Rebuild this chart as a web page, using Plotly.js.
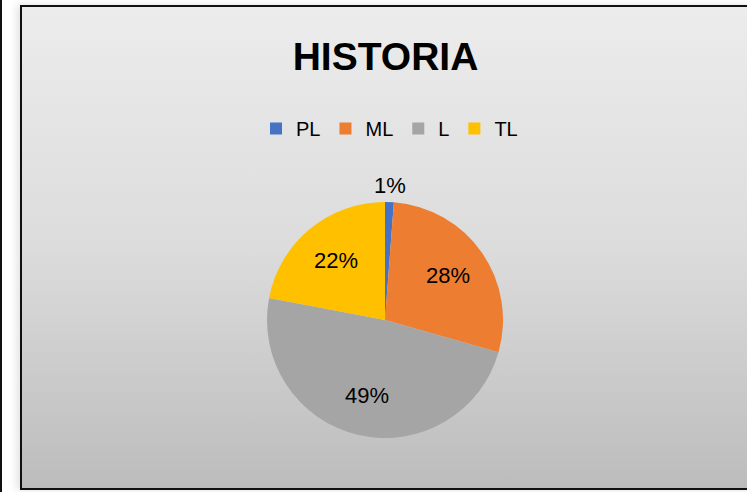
<!DOCTYPE html>
<html>
<head>
<meta charset="utf-8">
<script src="https://cdn.plot.ly/plotly-3.0.1.min.js"></script>
<style>
  html, body { margin: 0; padding: 0; background: #ffffff; overflow: hidden; }
  #wrap { position: relative; width: 747px; height: 492px; overflow: hidden; }
  #leftline { position: absolute; left: 0; top: 0; width: 2px; height: 492px; background: #111; }
  #frame { position: absolute; left: 20px; top: 5px; width: 800px; height: 481px;
           border: 2px solid #111;
           background: linear-gradient(to bottom, #ececec 0%, #dcdcdc 50%, #bcbcbc 100%);
           box-shadow: -3px 0 8px rgba(0,0,0,0.12); }
  #chart { position: absolute; left: 0; top: 0; width: 747px; height: 492px; }
</style>
</head>
<body>
<div id="wrap">
  <div id="leftline"></div>
  <div id="frame"></div>
  <div id="chart"></div>
</div>
<script>
const categories = ["PL", "ML", "L", "TL"];
const values = [1.2, 28.2, 48.6, 22.0];
const colors = ["#4472C4", "#ED7D31", "#A5A5A5", "#FFC000"];
const chartTitle = "HISTORIA";

const W = 747, H = 492;
const cx = 385, cy = 320, r = 118;
const FONT = "Liberation Sans, Arial, sans-serif";

const total = values.reduce((a, b) => a + b, 0);

// Data labels placed on each slice's mid angle (outside for the tiny slice)
const labelAnnotations = [];
let cum = 0;
values.forEach((v, i) => {
  const frac = v / total;
  const theta = 2 * Math.PI * (cum + frac / 2);
  cum += frac;
  const dist = frac < 0.05 ? r + 17 : 0.655 * r;
  labelAnnotations.push({
    text: Math.round(100 * frac) + "%",
    x: (cx + dist * Math.sin(theta)) / W,
    y: 1 - (cy - dist * Math.cos(theta)) / H,
    xref: "paper", yref: "paper",
    xanchor: "center", yanchor: "middle",
    showarrow: false,
    font: { family: FONT, size: 22, color: "#000000" }
  });
});

const trace = {
  type: "pie",
  labels: categories,
  values: values,
  sort: false,
  direction: "clockwise",
  rotation: 0,
  marker: { colors: colors, line: { width: 0 } },
  textinfo: "none",
  hoverinfo: "label+percent",
  domain: {
    x: [(cx - r) / W, (cx + r) / W],
    y: [1 - (cy + r) / H, 1 - (cy - r) / H]
  },
  automargin: false
};

const layout = {
  width: W,
  height: H,
  margin: { l: 0, r: 0, t: 0, b: 0, pad: 0 },
  paper_bgcolor: "rgba(0,0,0,0)",
  plot_bgcolor: "rgba(0,0,0,0)",
  font: { family: FONT, color: "#000000" },
  title: {
    text: chartTitle,
    font: { family: FONT, size: 39, weight: "bold", color: "#000000" },
    x: 385.5 / W, xanchor: "center",
    y: 1 - 56 / H, yanchor: "middle",
    xref: "paper", yref: "container"
  },
  showlegend: true,
  legend: {
    orientation: "h",
    x: 389.5 / W, xanchor: "center",
    y: 1 - 128.5 / H, yanchor: "middle",
    font: { family: FONT, size: 20, color: "#000000" },
    bgcolor: "rgba(0,0,0,0)",
    itemwidth: 30,
    traceorder: "normal"
  },
  annotations: labelAnnotations
};

Plotly.newPlot("chart", [trace], layout, { displayModeBar: false, staticPlot: true });
</script>
</body>
</html>
